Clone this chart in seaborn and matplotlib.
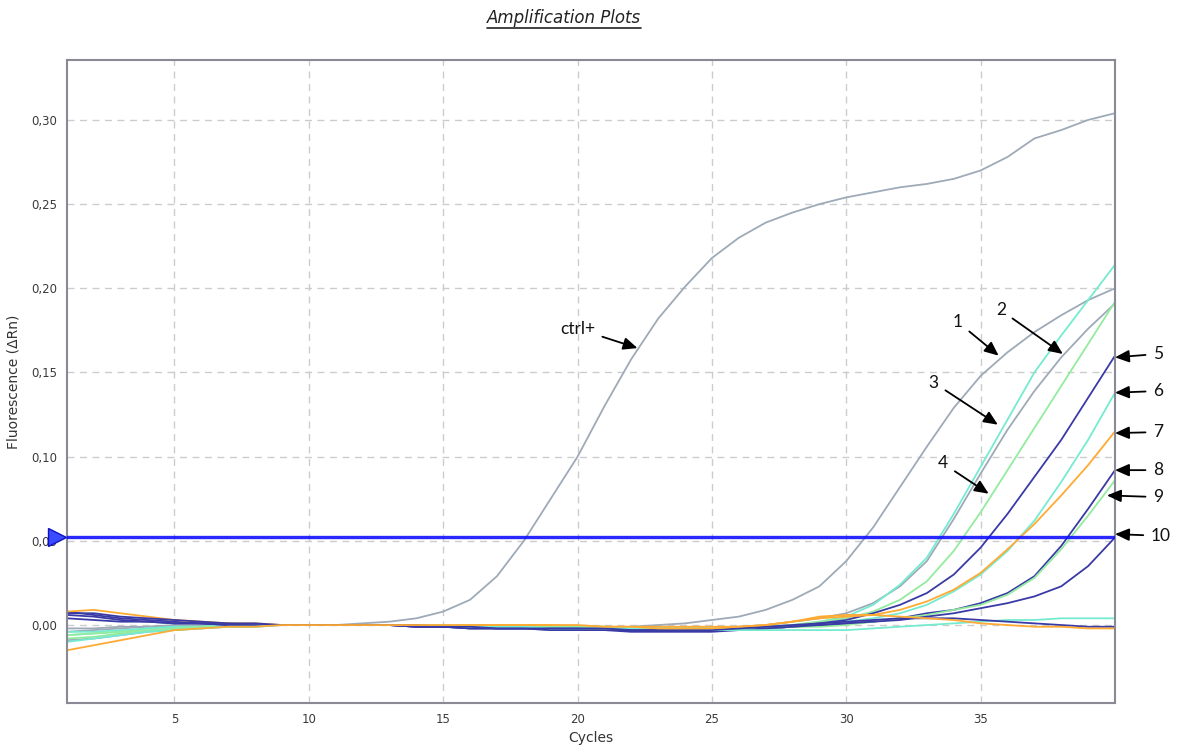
import numpy as np
import pandas as pd
import matplotlib
matplotlib.use("Agg")
import matplotlib.pyplot as plt
import seaborn as sns
from matplotlib.lines import Line2D
from matplotlib.ticker import FuncFormatter

cycles = list(range(1, 41))

ctrl_pos = [-0.009, -0.008, -0.006, -0.004, -0.003, -0.002, -0.001, -0.001, 0.000, 0.000, 0.000, 0.001,
            0.002, 0.004, 0.008, 0.015, 0.029, 0.050, 0.075, 0.100, 0.130, 0.158, 0.182, 0.201, 0.218,
            0.230, 0.239, 0.245, 0.250, 0.254, 0.257, 0.260, 0.262, 0.265, 0.270, 0.278, 0.289, 0.294,
            0.300, 0.304]
grey1 = [-0.004, -0.003, -0.002, -0.001, -0.001, 0, 0, 0, 0, 0, 0, 0, 0,
         -0.001, -0.001, -0.002, -0.002, -0.002, -0.002, -0.002, -0.002, -0.001,
         0.000, 0.001, 0.003, 0.005, 0.009, 0.015, 0.023, 0.038, 0.058, 0.082, 0.106, 0.129,
         0.148, 0.162, 0.174, 0.184, 0.193, 0.200]
grey2 = [-0.002, -0.002, -0.001, -0.001, 0, 0, 0, 0, 0, 0, 0, 0, 0,
         -0.001, -0.001, -0.002, -0.002, -0.002, -0.003, -0.003, -0.003, -0.003, -0.003, -0.002, -0.002, -0.001,
         0.000, 0.002, 0.004, 0.007, 0.013, 0.023, 0.038, 0.063, 0.090, 0.116, 0.139, 0.159, 0.176, 0.191]
cyan3 = [-0.006, -0.005, -0.004, -0.002, -0.001, -0.001, 0, 0, 0, 0, 0, 0, 0,
         0, 0, -0.001, -0.001, -0.001, -0.002, -0.002, -0.002, -0.002, -0.002, -0.002, -0.002, -0.002,
         -0.001, 0.000, 0.002, 0.005, 0.012, 0.024, 0.040, 0.066, 0.094, 0.122, 0.150, 0.172, 0.193, 0.214]
green4 = [-0.008, -0.007, -0.005, -0.003, -0.002, -0.001, -0.001, 0, 0, 0, 0, 0, 0,
          0, 0, 0, 0, 0, -0.001, -0.001, -0.001, -0.002, -0.002, -0.002, -0.002, -0.002,
          -0.001, 0.000, 0.002, 0.004, 0.008, 0.015, 0.026, 0.044, 0.067, 0.092, 0.117, 0.142, 0.167, 0.192]
blue5 = [0.008, 0.006, 0.004, 0.003, 0.002, 0.001, 0.001, 0, 0, 0, 0, 0, 0,
         -0.001, -0.001, -0.002, -0.002, -0.002, -0.002, -0.003, -0.003, -0.003, -0.003, -0.003, -0.003, -0.003,
         -0.002, -0.001, 0.001, 0.003, 0.007, 0.012, 0.019, 0.030, 0.046, 0.066, 0.088, 0.110, 0.135, 0.160]
cyan6 = [-0.004, -0.004, -0.003, -0.002, -0.001, -0.001, 0, 0, 0, 0, 0, 0, 0,
         0, 0, -0.001, -0.001, -0.001, -0.001, -0.002, -0.002, -0.002, -0.002, -0.002, -0.002, -0.002,
         -0.002, -0.001, 0.000, 0.002, 0.004, 0.007, 0.012, 0.020, 0.030, 0.044, 0.062, 0.085, 0.110, 0.138]
orange7 = [0.008, 0.009, 0.007, 0.005, 0.003, 0.002, 0.001, 0.001, 0, 0, 0, 0, 0,
           0, 0, 0, 0, 0, 0, -0.001, -0.001, -0.001, -0.001, -0.001, -0.001, -0.001,
           0.000, 0.002, 0.004, 0.005, 0.006, 0.009, 0.014, 0.021, 0.031, 0.045, 0.060, 0.077, 0.095, 0.115]
blue8 = [0.006, 0.005, 0.003, 0.002, 0.001, 0.001, 0, 0, 0, 0, 0, 0, 0,
         -0.001, -0.001, -0.002, -0.002, -0.002, -0.003, -0.003, -0.003, -0.004, -0.004, -0.004, -0.004, -0.003,
         -0.002, -0.001, 0.000, 0.001, 0.002, 0.004, 0.007, 0.009, 0.013, 0.019, 0.029, 0.047, 0.069, 0.092]
green9 = [-0.006, -0.005, -0.004, -0.003, -0.002, -0.001, -0.001, 0, 0, 0, 0, 0, 0,
          0, 0, 0, -0.001, -0.001, -0.001, -0.001, -0.001, -0.002, -0.002, -0.002, -0.002, -0.002,
          -0.002, -0.001, -0.001, 0.000, 0.002, 0.004, 0.006, 0.009, 0.012, 0.018, 0.028, 0.045, 0.065, 0.086]
blue10 = [0.004, 0.003, 0.002, 0.002, 0.001, 0.001, 0, 0, 0, 0, 0, 0, 0,
          -0.001, -0.001, -0.001, -0.002, -0.002, -0.002, -0.002, -0.003, -0.003, -0.003, -0.003, -0.003, -0.003,
          -0.002, -0.001, 0.000, 0.001, 0.002, 0.003, 0.005, 0.007, 0.010, 0.013, 0.017, 0.023, 0.035, 0.052]
cyan_flat = [-0.010, -0.008, -0.006, -0.004, -0.003, -0.002, -0.001, -0.001, 0, 0, 0, 0, 0,
             0, 0, -0.001, -0.001, -0.001, -0.002, -0.002, -0.002, -0.002, -0.002, -0.003, -0.003, -0.003,
             -0.003, -0.003, -0.003, -0.003, -0.002, -0.001, 0.000, 0.001, 0.002, 0.003, 0.003, 0.004, 0.004, 0.004]
navy_flat = [0.007, 0.007, 0.005, 0.004, 0.003, 0.002, 0.001, 0.001, 0, 0, 0, 0, 0,
             0, -0.001, -0.001, -0.002, -0.002, -0.002, -0.002, -0.002, -0.003, -0.003, -0.003, -0.003, -0.002,
             -0.001, 0.000, 0.001, 0.002, 0.003, 0.004, 0.004, 0.004, 0.003, 0.002, 0.001, 0.000, -0.001, -0.001]
orange_flat = [-0.015, -0.012, -0.009, -0.006, -0.003, -0.002, -0.001, -0.001, 0, 0, 0, 0, 0,
               0, 0, 0, 0, 0, 0, 0, -0.001, -0.001, -0.002, -0.002, -0.002, -0.001,
               0.000, 0.002, 0.005, 0.006, 0.006, 0.005, 0.004, 0.003, 0.001, 0.000, -0.001, -0.001, -0.002, -0.002]

series = {
    "ctrl+": ctrl_pos, "w1": grey1, "w2": grey2, "w3": cyan3, "w4": green4,
    "w5": blue5, "w6": cyan6, "w7": orange7, "w8": blue8, "w9": green9,
    "w10": blue10, "wc": cyan_flat, "wn": navy_flat, "wo": orange_flat,
}

GREY = "#9eaab7"
CYAN = "#74ebd0"
GREEN = "#93ec9e"
NAVY = "#3a3aa6"
ORANGE = "#ffaa33"
palette = {
    "ctrl+": GREY, "w1": GREY, "w2": GREY, "w3": CYAN, "w4": GREEN,
    "w5": NAVY, "w6": CYAN, "w7": ORANGE, "w8": NAVY, "w9": GREEN,
    "w10": NAVY, "wc": CYAN, "wn": NAVY, "wo": ORANGE,
}

threshold = 0.052

# annotations: label, text pos, arrow tip
ann_labels = ["ctrl+", "1", "2", "3", "4", "5", "6", "7", "8", "9", "10"]
ann_text_xy = [(20.0, 0.176), (34.15, 0.180), (35.75, 0.187), (33.25, 0.144), (33.6, 0.096),
               (41.6, 0.161), (41.6, 0.139), (41.6, 0.1146), (41.6, 0.092), (41.6, 0.076), (41.7, 0.053)]
ann_tip_xy = [(22.23, 0.1645), (35.67, 0.160), (38.06, 0.161), (35.64, 0.119), (35.3, 0.078),
              (40.0, 0.159), (40.0, 0.138), (40.0, 0.114), (40.0, 0.092), (39.7, 0.077), (40.0, 0.054)]

rows = []
for name, vals in series.items():
    for c, v in zip(cycles, vals):
        rows.append((name, c, v))
df = pd.DataFrame(rows, columns=["Well", "Cycle", "dRn"])

sns.set_style("white")
plt.rcParams["font.family"] = ["DejaVu Sans"]

fig = plt.figure(figsize=(11.84, 7.49), dpi=100)
ax = fig.add_axes([67 / 1184, 46 / 749, (1115 - 67) / 1184, (703 - 60) / 749])

sns.lineplot(data=df, x="Cycle", y="dRn", hue="Well", palette=palette, legend=False,
             linewidth=1.3, ax=ax, sort=False)

ax.axhline(threshold, color="#1010ff", lw=2.4, zorder=5, alpha=0.9)
ax.plot([0.62], [threshold], marker=">", markersize=13, color="#3a4cff",
        markeredgecolor="#1010c0", clip_on=False, zorder=10)

ax.set_xlim(1, 40)
ax.set_ylim(-0.0463, 0.3356)
ax.set_xticks([5, 10, 15, 20, 25, 30, 35])
ax.set_yticks([0.0, 0.05, 0.10, 0.15, 0.20, 0.25, 0.30])
ax.yaxis.set_major_formatter(FuncFormatter(lambda v, p: f"{v:.2f}".replace(".", ",")))
ax.grid(True, color="#cccccc", linestyle=(0, (5, 4)), linewidth=1.0)
ax.set_axisbelow(True)
ax.tick_params(axis="both", length=0, labelsize=8.5, labelcolor="#3a3a3a", pad=7)
for s in ax.spines.values():
    s.set_color("#8a8a96")
    s.set_linewidth(1.5)

ax.set_xlabel("Cycles", fontsize=10, color="#333333", labelpad=4)
ax.set_ylabel("Fluorescence (\u0394Rn)", fontsize=10, color="#333333", labelpad=8)

for lab, txy, tip in zip(ann_labels, ann_text_xy, ann_tip_xy):
    ax.annotate(lab, xy=tip, xytext=txy, textcoords="data", fontsize=12.5,
                family="Lato", color="#111111", ha="center", va="center",
                annotation_clip=False,
                arrowprops=dict(arrowstyle="-|>,head_length=0.5,head_width=0.22", color="black", lw=1.3,
                                mutation_scale=17, shrinkA=3, shrinkB=0))

title = fig.text(564 / 1184, 1 - 18 / 749, "Amplification Plots", ha="center", va="center",
                 fontsize=12, style="italic", color="#222222")
fig.canvas.draw()
bb = title.get_window_extent(renderer=fig.canvas.get_renderer())
fig.add_artist(Line2D([bb.x0 / 1184, bb.x1 / 1184], [(bb.y0 - 1) / 749, (bb.y0 - 1) / 749],
                      transform=fig.transFigure, color="#222222", lw=1.2))

fig.savefig("out.png", dpi=100, facecolor="white")
